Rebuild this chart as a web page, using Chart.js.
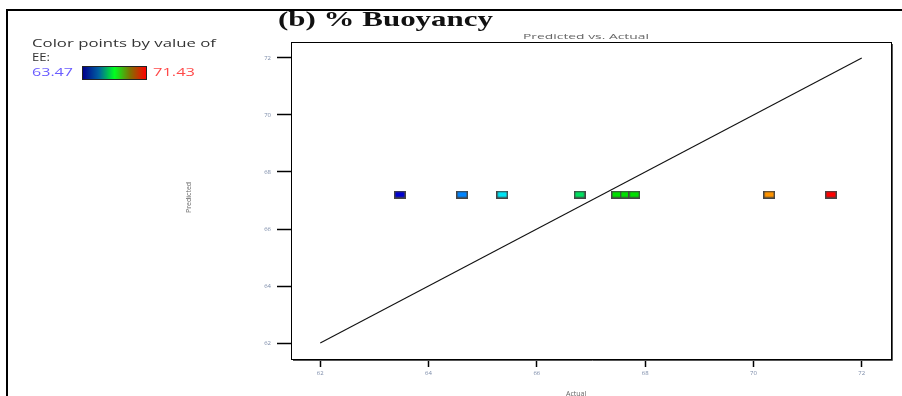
<!DOCTYPE html>
<html>
<head>
<meta charset="utf-8">
<script src="https://cdn.jsdelivr.net/npm/chart.js@4/dist/chart.umd.min.js"></script>
<style>
  html, body { margin: 0; padding: 0; background: #fff; }
  #wrap { position: relative; width: 902px; height: 396px; overflow: hidden; background: #fff; }
  #plot { position: absolute; left: 0; top: 0; }
  .txt { position: absolute; white-space: nowrap; transform-origin: 0 0; line-height: 1; }
  #frame { position: absolute; left: 6px; top: 9px; width: 910px; height: 400px;
           border-top: 2px solid #000; border-left: 2px solid #000; }
  #title { font-family: "Liberation Serif", serif; font-weight: bold; font-size: 21px; color: #111; }
  .leg { font-family: "Open Sans", sans-serif; font-size: 11.5px; color: #333; }
  .small { font-family: "Open Sans", sans-serif; font-size: 7px; color: #666; }
  #bar { position: absolute; left: 82px; top: 66px; width: 63px; height: 12px;
         border: 1px solid #222; }
</style>
</head>
<body>
<div id="wrap">
  <canvas id="plot" width="902" height="396"></canvas>
  <div id="frame"></div>
  <div class="txt" id="title" style="left:278px; top:9px;">(b) % Buoyancy</div>
  <div class="txt small" id="sub" style="left:523px; top:33px;">Predicted vs. Actual</div>
  <div class="txt leg" id="leg1" style="left:32px; top:37px;">Color points by value of</div>
  <div class="txt leg" id="leg2" style="left:32px; top:51px;">EE:</div>
  <div class="txt leg" id="legMin" style="left:32px; top:66px; color:#6a5cff;">63.47</div>
  <div id="bar"></div>
  <div class="txt leg" id="legMax" style="left:153px; top:66px; color:#ff4a4a;">71.43</div>
  <div class="txt small" id="ytitle" style="left:185px; top:213px; transform: rotate(-90deg); transform-origin: 0 0;">Predicted</div>
  <div class="txt small" id="xtitle" style="left:566px; top:390px;">Actual</div>
</div>
<script>
// Actual vs. predicted EE (%) for each run
const actualEE    = [63.47, 64.62, 65.36, 66.79, 67.48, 67.64, 67.80, 70.29, 71.43];
const predictedEE = [67.21, 67.21, 67.21, 67.21, 67.21, 67.21, 67.21, 67.21, 67.21];
const pointColors = ['#0000d0', '#0084ff', '#00e4f4', '#00e060', '#00e000', '#00e000', '#00e000', '#ff9400', '#ff0000'];
// y = x reference line end points
const lineEnds = [62, 72];
const tickValues = [62, 64, 66, 68, 70, 72];

// stretch a text element horizontally to a target width
function fitWidth(id, w) {
  const el = document.getElementById(id);
  const r = el.getBoundingClientRect();
  el.style.transform = 'scaleX(' + (w / r.width) + ')';
}
fitWidth('title', 215);
fitWidth('leg1', 184);
fitWidth('leg2', 18);
fitWidth('legMin', 41);
fitWidth('legMax', 42);
fitWidth('sub', 126);

document.getElementById('bar').style.background =
  'linear-gradient(to right, #00008c 0%, #0060a0 25%, #00ff20 50%, #807000 75%, #ff0000 100%)';

// rectangular marker with a dark outline
function marker(color) {
  const c = document.createElement('canvas');
  c.width = 12; c.height = 8;
  const g = c.getContext('2d');
  g.fillStyle = '#444';
  g.fillRect(0, 0, 12, 8);
  g.fillStyle = color;
  g.fillRect(1.5, 1.5, 9, 5);
  return c;
}

const pts = actualEE.map((v, i) => ({ x: v, y: predictedEE[i] }));
const line = lineEnds.map(v => ({ x: v, y: v }));

const boxPlugin = {
  id: 'box',
  afterDraw(chart) {
    const { ctx, chartArea: a } = chart;
    ctx.save();
    ctx.strokeStyle = '#000';
    ctx.lineWidth = 1;
    ctx.strokeRect(a.left + 0.5, a.top + 0.5, a.right - a.left, a.bottom - a.top);
    ctx.strokeStyle = '#555';
    ctx.beginPath();
    ctx.moveTo(a.right + 1.5, a.top + 2);
    ctx.lineTo(a.right + 1.5, a.bottom + 1.5);
    ctx.lineTo(a.left + 2, a.bottom + 1.5);
    ctx.stroke();
    ctx.restore();
  }
};

const tickSetter = scale => { scale.ticks = tickValues.map(v => ({ value: v })); };

new Chart(document.getElementById('plot'), {
  type: 'scatter',
  data: {
    datasets: [
      {
        label: 'EE',
        data: pts,
        pointStyle: pointColors.map(marker),
        pointRadius: 6,
        order: 0
      },
      {
        label: 'Reference',
        data: line,
        showLine: true,
        borderColor: '#111',
        borderWidth: 1.1,
        pointRadius: 0,
        order: 1
      }
    ]
  },
  options: {
    responsive: false,
    animation: false,
    events: [],
    layout: { padding: { left: 0, top: 42, right: 11, bottom: 0 } },
    plugins: { legend: { display: false }, tooltip: { enabled: false } },
    scales: {
      x: {
        type: 'linear',
        min: 61.46, max: 72.54,
        afterBuildTicks: tickSetter,
        afterFit(s) { s.height = 37; },
        border: { display: false },
        grid: { drawOnChartArea: false, tickLength: 8, tickColor: '#000', tickWidth: 1.5 },
        ticks: { font: { size: 6, family: 'Open Sans' }, color: '#7a8aa8', padding: 3 }
      },
      y: {
        type: 'linear',
        min: 61.44, max: 72.56,
        afterBuildTicks: tickSetter,
        afterFit(s) { s.width = 291; },
        border: { display: false },
        grid: { drawOnChartArea: false, tickLength: 14, tickColor: '#000', tickWidth: 1.5 },
        ticks: { font: { size: 6, family: 'Open Sans' }, color: '#7a8aa8', padding: 6 }
      }
    }
  },
  plugins: [boxPlugin]
});
</script>
</body>
</html>
